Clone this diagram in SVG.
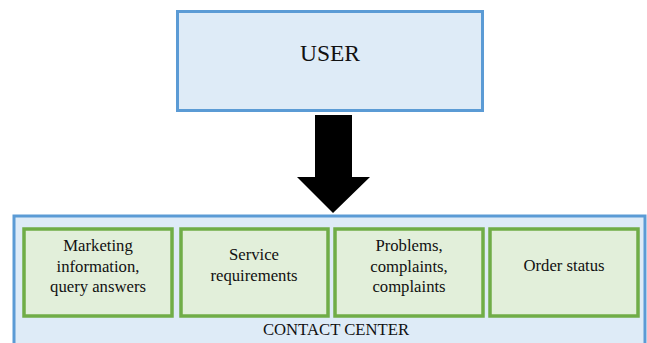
<svg xmlns="http://www.w3.org/2000/svg" width="647" height="343" viewBox="0 0 647 343">
<style>
.blue{fill:#deebf7;stroke:#5b9bd5;stroke-width:3}
.green{fill:#e2efda;stroke:#70ad47;stroke-width:3.5}
.t{font-size:16.7px;fill:#111;text-anchor:middle}
</style>
<rect width="647" height="343" fill="#fff"/>
<g font-family="'Liberation Serif', 'Times New Roman', 'DejaVu Serif', serif">
<g id="user">
<rect class="blue" x="177.5" y="11.5" width="305" height="99"/>
<text class="t" x="330" y="61" style="font-size:23.5px">USER</text>
</g>
<g id="contact-center">
<rect class="blue" x="14" y="216" width="631" height="140"/>
<text class="t" x="336" y="335">CONTACT CENTER</text>
</g>
<g id="marketing">
<rect class="green" x="24" y="229" width="148" height="87"/>
<text class="t" x="98" y="251">Marketing</text>
<text class="t" x="98" y="272">information,</text>
<text class="t" x="98" y="292">query answers</text>
</g>
<g id="service">
<rect class="green" x="181" y="229" width="147" height="87"/>
<text class="t" x="254" y="260">Service</text>
<text class="t" x="254" y="281">requirements</text>
</g>
<g id="problems">
<rect class="green" x="335" y="229" width="148" height="87"/>
<text class="t" x="409" y="251">Problems,</text>
<text class="t" x="409" y="272">complaints,</text>
<text class="t" x="409" y="292">complaints</text>
</g>
<g id="order">
<rect class="green" x="490" y="229" width="148" height="87"/>
<text class="t" x="564" y="271">Order status</text>
</g>
</g>
<g id="connectors">
<polygon points="315,115 352,115 352,177 370,177 333,213 297,177 315,177" fill="#000"/>
</g>
</svg>
